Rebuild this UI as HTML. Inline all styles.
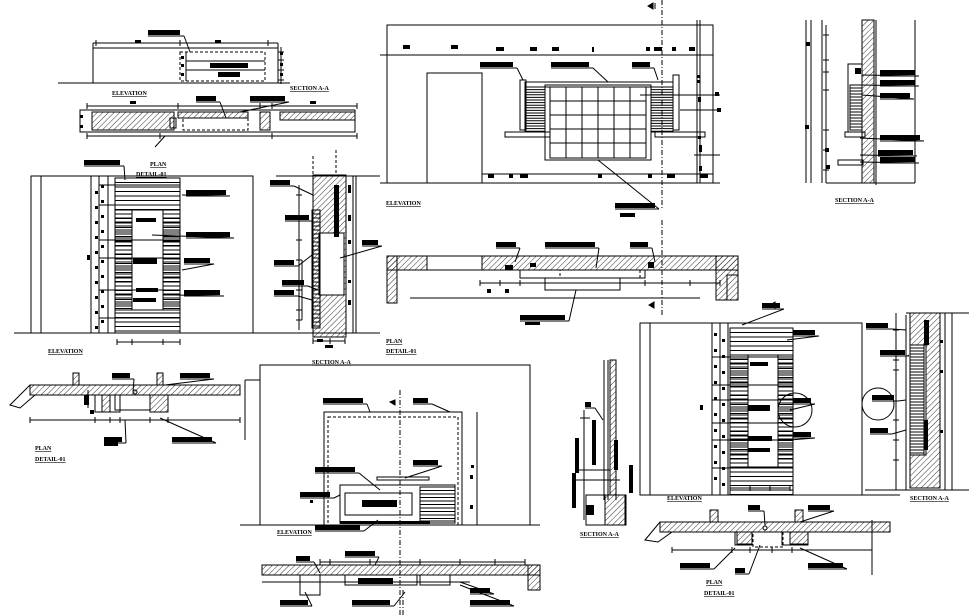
<!DOCTYPE html>
<html><head><meta charset="utf-8"><style>
html,body{margin:0;padding:0;background:#fff;}
svg{display:block;}
text{font-family:"Liberation Serif",serif;font-weight:bold;font-size:6px;fill:#000;text-decoration:underline;}
</style></head><body>
<svg id="s" width="969" height="615" viewBox="0 0 969 615" xmlns="http://www.w3.org/2000/svg">
<defs>
<pattern id="h" width="4" height="4" patternUnits="userSpaceOnUse" patternTransform="rotate(45)"><line x1="0" y1="0" x2="0" y2="4" stroke="#000" stroke-width="0.8"/></pattern>
</defs>
<g id="g" fill="none" stroke="#000" stroke-width="1"></g>
<text x="112" y="95">ELEVATION</text>
<text x="290" y="90">SECTION A-A</text>
<text x="150" y="166">PLAN</text>
<text x="136" y="176">DETAIL-01</text>
<text x="48" y="353">ELEVATION</text>
<text x="312" y="364">SECTION A-A</text>
<text x="386" y="205">ELEVATION</text>
<text x="835" y="202">SECTION A-A</text>
<text x="386" y="343">PLAN</text>
<text x="386" y="353">DETAIL-01</text>
<text x="35" y="450">PLAN</text>
<text x="35" y="461">DETAIL-01</text>
<text x="277" y="534">ELEVATION</text>
<text x="580" y="536">SECTION A-A</text>
<text x="667" y="500">ELEVATION</text>
<text x="910" y="500">SECTION A-A</text>
<text x="706" y="584">PLAN</text>
<text x="704" y="595">DETAIL-01</text>
</svg>
<script>
var g=document.getElementById('g'),NS='http://www.w3.org/2000/svg';
function el(t,a){var e=document.createElementNS(NS,t);for(var k in a)e.setAttribute(k,a[k]);g.appendChild(e);return e;}
function L(a,b,c,d,dash){var o={x1:a,y1:b,x2:c,y2:d};if(dash)o['stroke-dasharray']=dash;el('line',o);}
function R(x,y,w,h,dash){var o={x:x,y:y,width:w,height:h};if(dash)o['stroke-dasharray']=dash;el('rect',o);}
function B(x,y,w,h){el('rect',{x:x,y:y,width:w,height:h,fill:'#000',stroke:'none'});}
function H(x,y,w,h){el('rect',{x:x,y:y,width:w,height:h,fill:'url(#h)'});}
function P(pts,fill){el('polygon',{points:pts,fill:fill||'none'});}
function brick(x,y,w,h,s){R(x,y,w,h);for(var yy=y+s;yy<y+h;yy+=s)L(x,yy,x+w,yy);}
function C(cx,cy,r){el('circle',{cx:cx,cy:cy,r:r});}
function dim(x1,x2,y,ticks){L(x1,y,x2,y);ticks.forEach(function(t){L(t,y-3,t,y+3);});}
function vdim(x,y1,y2,ticks){L(x,y1,x,y2);ticks.forEach(function(t){L(x-3,t,x+3,t);});}
function lbl(x,y,w,lx,ly){B(x,y,w,5);L(x,y+6,x+w+4,y+6);if(lx!==undefined)L(x+w+4,y+6,lx,ly);}

/* ---- top-left elevation ---- */
L(58,83,290,83);R(93,48,185,35);L(93,48,93,43);L(278,48,278,43);dim(93,278,43,[96,180,268]);B(135,40,6,3);B(215,40,6,3);
R(180,52,85,29,'3,2');L(186,52,186,81);L(186,61,265,61);L(186,70,265,70);
B(210,63,38,5);B(218,72,22,5);lbl(148,30,32,190,52);B(181,56,3,3);B(181,64,3,3);B(181,73,3,3);
vdim(281,47,84,[52,60,70,80]);B(280,52,3,3);B(280,63,3,3);B(280,73,3,3);
/* plan strip */
R(80,110,275,22);H(92,112,82,18);H(178,112,70,6);H(260,112,10,18);H(280,112,75,8);
R(183,118,65,12,'3,2');R(170,118,6,10);dim(87,357,106,[87,178,260,272,357]);dim(87,357,136,[87,160,272,357]);
B(130,101,6,3);B(310,101,6,3);lbl(196,96,20,226,118);lbl(250,96,35,240,112);B(80,115,3,3);B(80,125,3,3);L(165,136,155,147);

/* ---- left elevation ---- */
L(14,333,380,333);R(31,176,222,157);L(41,176,41,333);L(91,176,91,333);L(99,176,99,333);L(108,176,108,333);
brick(115,178,65,155,4.5);B(132,210,31,100);
el('rect',{x:132,y:210,width:31,height:100,fill:'#fff',stroke:'#000'});
brick(115,210,17,100,4);brick(163,210,17,100,4);
[185,205,240,258,290,318].forEach(function(y){L(99,y,180,y);});
for(var y=185;y<330;y+=15){B(101,y,3,3);B(95,y+6,3,3);}B(87,255,3,5);
dim(117,180,342,[117,132,163,180]);
lbl(84,160,36,125,180);lbl(186,190,40,182,195);lbl(186,232,44,152,235);lbl(184,258,26,182,270);lbl(184,290,36,175,295);
B(136,218,20,4);B(133,258,24,6);B(136,288,22,4);B(133,298,23,4);
/* section A-A left */
L(276,176,380,176);L(313,156,313,175,'3,2');L(336,150,336,175,'3,2');
H(313,175,33,162);el('rect',{x:319,y:233,width:25,height:62,fill:'#fff',stroke:'#000'});
brick(312,210,8,118,4);B(334,185,5,52);L(346,175,346,337);L(353,176,353,333);L(356,176,356,333);
L(299,195,299,320);L(302,260,302,320);vdim(299,185,330,[195,240,260,290,310,320]);
lbl(270,180,20,313,195);lbl(285,215,24,312,216);lbl(274,260,20,312,255);lbl(282,280,22,318,290);lbl(274,290,20,312,300);lbl(362,240,16,340,258);
B(348,185,3,8);B(348,215,3,6);B(348,240,3,4);B(348,280,3,3);B(348,300,3,5);
dim(313,345,341,[313,330,345]);B(317,339,6,3);B(325,345,8,3);

/* ---- top center elevation ---- */
R(387,25,326,158);L(380,55,713,55);L(482,174,713,174);L(380,183,720,183);
R(427,73,55,110);
R(520,80,6,50);R(673,75,6,55);R(525,82,148,5);R(505,132,45,5);R(655,132,50,5);
brick(525,87,20,45,2.6);brick(651,87,22,45,2.6);
R(545,85,106,75);for(var i=1;i<6;i++){L(550+i*16,87,550+i*16,158);}for(var j=1;j<5;j++){L(550,87+j*14,646,87+j*14);}R(550,87,96,71);
L(662,0,662,210,'5,2,1,2');L(700,20,700,183);L(697,20,697,183);
B(403,45,7,4);B(451,45,7,4);B(496,47,8,4);B(530,47,7,4);B(552,47,7,4);B(592,47,2,5);B(646,47,4,4);B(654,47,8,4);B(672,47,4,4);B(689,47,6,4);
B(488,174,6,4);B(509,174,4,4);B(520,174,8,4);B(598,174,4,4);B(648,174,4,4);B(667,174,8,4);B(700,174,8,4);
B(697,75,3,3);B(697,80,3,3);B(698,97,3,5);B(698,136,3,3);B(699,145,3,7);B(699,166,3,5);
lbl(480,62,33,523,80);lbl(551,62,38,608,82);lbl(632,62,18,658,80);lbl(615,203,40,598,160);B(620,213,15,4);
L(640,95,720,95);L(680,110,720,110);L(694,155,720,155);B(715,92,4,4);B(717,108,4,4);
el('polygon',{points:'648,6 653,3 653,9',fill:'#000'});L(655,3,655,9);
/* right section top */
L(806,20,806,183);L(811,20,811,183);L(822,20,822,183);L(826,30,826,183);
H(862,20,12,163);R(848,64,14,68);brick(850,85,12,45,3);R(845,132,20,5);R(838,160,25,5);
L(876,20,876,185);L(915,20,915,183);L(826,183,915,183);
vdim(826,25,183,[35,60,72,90,130,150,170]);B(806,42,4,4);B(805,125,4,4);B(825,148,4,4);B(826,165,4,4);B(855,68,6,6);
lbl(880,70,35,862,75);lbl(880,80,35,862,85);lbl(880,93,30,862,95);lbl(880,135,40,860,138);lbl(878,150,35,860,155);lbl(880,157,35,860,162);

/* ---- middle plan ---- */
P('387,256 738,256 738,275 727,275 727,300 716,300 716,270 387,270');
H(387,256,40,14);H(482,256,256,14);H(716,256,22,44);R(387,256,10,47);H(387,256,10,47);
R(520,270,125,8);R(545,278,75,12);R(560,270,80,8,'3,2');L(410,298,700,298);L(480,283,650,283);
L(662,220,662,315,'5,2,1,2');dim(480,720,283,[480,500,520,545,620,645,690,720]);
lbl(496,242,20,515,262);lbl(545,242,50,596,268);lbl(630,242,18,655,262);lbl(520,315,45,576,290);B(525,322,15,3);
B(505,265,8,5);B(530,263,6,4);B(648,262,6,6);B(487,289,4,4);B(505,289,4,4);

/* ---- left plan ---- */
P('10,405 30,385 240,385 240,395 168,395 168,412 150,412 150,395 120,395 120,412 95,412 95,395 35,395 20,408');
H(30,385,210,10);H(73,373,6,12);H(157,373,6,12);H(102,395,8,17);H(150,395,18,17);
R(115,395,35,15);C(135,392,2);L(30,420,240,420);dim(30,240,420,[30,95,110,120,150,168,240]);
lbl(112,373,18,133,392);lbl(180,373,30,165,385);lbl(172,437,40,160,418);lbl(104,437,18,125,420);B(104,440,14,6);
L(88,390,88,408);B(84,395,5,10);B(90,410,4,4);

/* ---- bottom middle elevation ---- */
L(240,525,540,525);R(260,365,270,160);L(245,380,260,380);L(245,380,245,440);
R(324,412,138,113);R(328,417,130,108,'3,2');L(477,412,477,525);
L(400,390,400,615,'5,2,1,2');el('polygon',{points:'395,400 390,402 395,405',fill:'#000'});
R(377,477,52,3);R(340,485,115,38);brick(420,487,35,34,3.5);R(345,493,67,22);B(362,500,35,7);
B(340,521,90,3);lbl(315,467,40,380,490);lbl(300,492,30,340,495);lbl(413,460,25,405,478);lbl(315,525,45,378,520);
lbl(323,398,40,370,412);lbl(413,398,15,450,412);B(470,475,3,4);B(470,505,3,4);B(471,465,3,3);B(310,500,3,3);
/* bottom plan */
P('262,565 540,565 540,590 528,590 528,575 262,575');H(262,565,278,10);H(528,565,12,25);
R(345,575,72,10);R(300,575,20,20);R(420,575,30,10);B(358,578,35,6);L(262,582,470,582);
dim(320,525,562,[320,330,370,420,460,495,525]);
lbl(296,556,14,320,573);lbl(345,551,30,375,565);lbl(280,600,28,305,592);lbl(352,600,38,405,592);lbl(470,600,40,460,585);lbl(470,588,20,460,582);
L(403,590,403,615,'5,2,1,2');

/* ---- small section ---- */
L(604,360,604,500);L(608,360,608,500);H(610,360,6,135);L(616,360,616,500);
R(586,495,40,30);H(605,495,20,30);B(592,420,4,45);B(614,440,4,30);B(575,438,4,35);B(572,473,4,35);B(629,465,4,28);B(586,505,8,10);
L(584,410,584,520);L(580,418,590,418);lbl(585,402,6,603,420);L(575,470,610,470);L(575,480,620,480);

/* ---- bottom-right elevation ---- */
L(640,495,900,495);R(640,323,222,172);L(650,323,650,495);L(712,323,712,495);L(720,323,720,495);L(728,323,728,495);
brick(730,328,63,167,4.5);el('rect',{x:748,y:355,width:30,height:112,fill:'#fff',stroke:'#000'});brick(730,355,18,112,4);brick(778,355,15,112,4);
[357,385,400,423,440,468].forEach(function(y){L(712,y,793,y);});
for(var y2=333;y2<490;y2+=16){B(714,y2,3,3);B(722,y2+6,3,3);}B(700,405,3,5);
C(795,410,17);dim(730,790,488,[730,750,770,790]);
B(750,362,18,4);B(748,405,22,6);B(748,436,24,5);B(748,448,22,4);
lbl(762,303,18,742,325);lbl(793,330,22,787,340);lbl(793,398,18,790,410);lbl(793,432,18,790,440);
el('polygon',{points:'649,305 654,302 654,308',fill:'#000'});el('polygon',{points:'770,305 775,302 775,308',fill:'#000'});
/* right section bottom */
L(906,313,969,313);L(906,315,906,490);H(910,313,30,175);el('rect',{x:910,y:345,width:16,height:110,fill:'#fff',stroke:'#000'});brick(910,345,14,110,3);
B(924,320,5,25);B(924,420,4,30);L(945,313,945,490);L(952,313,952,490);L(865,490,969,490);
C(878,404,16);lbl(866,323,22,906,330);lbl(880,350,25,908,355);lbl(872,395,22,906,400);lbl(870,428,18,906,430);
vdim(896,313,490,[330,360,370,420,440,460]);B(940,340,3,3);B(940,370,3,3);B(940,430,3,3);
/* bottom-right plan */
P('645,540 660,522 890,522 890,532 808,532 808,545 782,545 782,532 752,532 752,545 735,545 735,532 672,532 658,542');
H(660,522,230,10);H(710,510,8,12);H(795,510,8,12);H(737,532,15,12);H(790,532,18,12);
R(753,532,30,15,'3,2');C(765,528,2);L(672,550,872,550);dim(672,872,550,[672,732,750,772,792,872]);
lbl(680,563,30,735,548);lbl(808,563,35,800,548);lbl(735,568,10,760,545);lbl(748,505,12,765,525);lbl(808,505,22,800,522);
L(872,520,872,575);
</script>
</body></html>
